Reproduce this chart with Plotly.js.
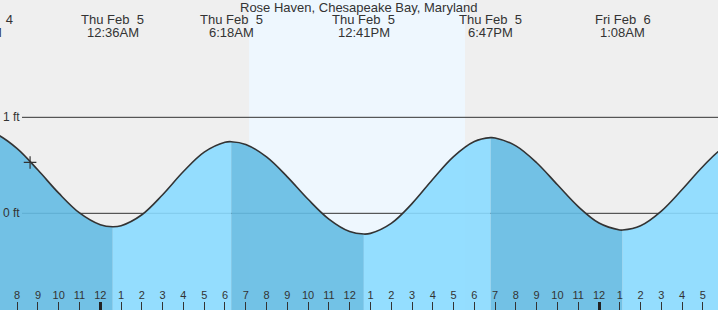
<!DOCTYPE html>
<html><head><meta charset="utf-8">
<script src="https://cdn.plot.ly/plotly-3.0.1.min.js"></script>
<style>html,body{margin:0;padding:0;background:#efefef;}#chart{width:718px;height:310px;}</style>
</head><body><div id="chart"></div>
<script>
// ---- data (times are hours relative to Thu Feb 5 00:00) ----
const chartTitle = "Rose Haven, Chesapeake Bay, Maryland";
const hourTimes = [-5,-4,-3,-2,-1,0,1,2,3,4,5,6,7,8,9,10,11,12,13,14,15,16,17,18,19,20,21,22,23,24,25,26,27,28,29,30];
const hourHeights = [0.825,0.674,0.451,0.210,0.004,-0.119,-0.129,-0.015,0.194,0.435,0.637,0.740,0.718,0.587,0.380,0.146,-0.060,-0.190,-0.209,-0.105,0.101,0.355,0.591,0.748,0.785,0.703,0.527,0.297,0.070,-0.101,-0.173,-0.129,0.024,0.248,0.488,0.685];
const eventTimes = [-5.8, 0.6, 6.3, 12.683, 18.783, 25.133, 31.4];
const eventHeights = [0.872, -0.14, 0.746, -0.216, 0.788, -0.174, 0.80];
const eventDays = ["Wed Feb\u00a0 4","Thu Feb\u00a0 5","Thu Feb\u00a0 5","Thu Feb\u00a0 5","Thu Feb\u00a0 5","Fri Feb\u00a0 6","Fri Feb\u00a0 6"];
const eventClock = ["5:48PM","12:36AM","6:18AM","12:41PM","6:47PM","1:08AM","7:24AM"];
const nowTime = -3.38, nowHeight = 0.53;
const sunrise = 7.16, sunset = 17.55;
const levelTicks = [0, 1];
const levelLabels = ["0 ft", "1 ft"];
const xRange = [-4.827, 29.726];
const yRange = [-1.007, 2.222];

// ---- build ----
const FONT = "Liberation Sans, Arial, sans-serif";
const pts = [];
hourTimes.forEach((t,i)=>pts.push([t,hourHeights[i]]));
eventTimes.forEach((t,i)=>pts.push([t,eventHeights[i]]));
pts.sort((a,b)=>a[0]-b[0]);
const allX = pts.map(p=>p[0]), allY = pts.map(p=>p[1]);

const traces = [];
const base = yRange[0] - 0.2;
for (let i=0;i<eventTimes.length-1;i++){
  const a = eventTimes[i], b = eventTimes[i+1];
  const seg = pts.filter(p=>p[0]>=a-1e-9 && p[0]<=b+1e-9);
  const sx = seg.map(p=>p[0]), sy = seg.map(p=>p[1]);
  const falling = eventHeights[i] > eventHeights[i+1];
  traces.push({x:sx, y:sx.map(()=>base), mode:'lines', line:{width:0}, hoverinfo:'skip', showlegend:false});
  traces.push({x:sx, y:sy, mode:'lines', line:{width:0, shape:'spline', smoothing:1}, fill:'tonexty',
    fillcolor: falling ? 'rgba(100,187,227,0.9)' : 'rgba(138,218,255,0.9)', hoverinfo:'skip', showlegend:false});
}
traces.push({x:allX, y:allY, mode:'lines', line:{color:'#333', width:1.6, shape:'spline', smoothing:1}, hoverinfo:'skip', showlegend:false});
traces.push({x:[nowTime], y:[nowHeight], xaxis:'x2', mode:'markers', marker:{symbol:'cross-thin', size:9, line:{color:'#333', width:1.2}}, hoverinfo:'skip', showlegend:false});

const tickvals = [], ticktext = [], midnights = [];
for (let h=Math.ceil(xRange[0]); h<=Math.floor(xRange[1]); h++){
  tickvals.push(h);
  const m = ((h%12)+12)%12;
  ticktext.push(String(m===0?12:m));
  if (((h%24)+24)%24===0) midnights.push(h);
}

const span = xRange[1]-xRange[0];
const toPaper = t => (t - xRange[0]) / span;
const annotations = [{text:chartTitle, xref:'paper', yref:'paper', x:0.5, y:1-8/310, xanchor:'center', yanchor:'middle', showarrow:false, font:{family:FONT,size:13,color:'#333'}}];
eventTimes.forEach((t,i)=>{
  if (t > xRange[1]) return;
  annotations.push({text:eventDays[i], xref:'paper', yref:'paper', x:toPaper(t), y:1-20/310, xanchor:'center', yanchor:'middle', showarrow:false, font:{family:FONT,size:13,color:'#333'}});
  annotations.push({text:eventClock[i], xref:'paper', yref:'paper', x:toPaper(t), y:1-32.5/310, xanchor:'center', yanchor:'middle', showarrow:false, font:{family:FONT,size:13,color:'#333'}});
});
levelTicks.forEach((v,i)=>{
  annotations.push({text:levelLabels[i], xref:'paper', yref:'y', x:0, y:v, xanchor:'left', yanchor:'middle', xshift:1, showarrow:false, font:{family:FONT,size:12,color:'#333'}});
});

const shapes = [{type:'rect', xref:'x', yref:'paper', x0:sunrise, x1:sunset, y0:0, y1:1, fillcolor:'#eef7fe', line:{width:0}, layer:'below'}];
levelTicks.forEach(v=>shapes.push({type:'line', xref:'paper', yref:'y', x0:22/718, x1:1, y0:v, y1:v, line:{color:'#333', width:1}, layer:'below'}));

const layout = {
  width:718, height:310, margin:{l:0,r:0,t:0,b:0},
  paper_bgcolor:'#efefef', plot_bgcolor:'#efefef', showlegend:false,
  xaxis:{range:xRange, showgrid:false, zeroline:false, showline:false, tickmode:'array', tickvals:tickvals, ticktext:ticktext,
    ticks:'inside', ticklen:8, tickwidth:1, tickcolor:'#333', ticklabelposition:'inside', tickfont:{family:FONT,size:11,color:'#333'}, fixedrange:true},
  xaxis2:{range:xRange, overlaying:'x', anchor:'y', side:'bottom', showgrid:false, zeroline:false, showline:false, tickmode:'array', tickvals:midnights,
    ticks:'inside', ticklen:8, tickwidth:3, tickcolor:'#222', showticklabels:false, fixedrange:true},
  yaxis:{range:yRange, showgrid:false, zeroline:false, showline:false, showticklabels:false, ticks:'', fixedrange:true},
  shapes:shapes, annotations:annotations
};
Plotly.newPlot('chart', traces, layout, {staticPlot:true, displayModeBar:false});
</script></body></html>
